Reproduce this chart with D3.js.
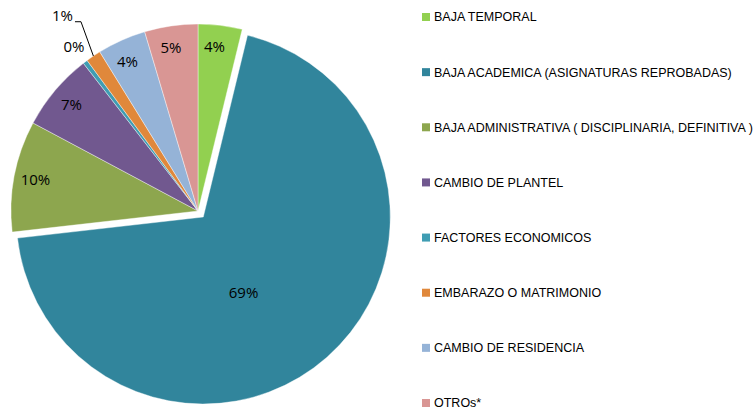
<!DOCTYPE html>
<html>
<head>
<meta charset="utf-8">
<script src="https://cdn.jsdelivr.net/npm/d3@7"></script>
<style>
  body { margin: 0; background: #fff; }
  svg { display: block; }
</style>
</head>
<body>
<div id="chart"></div>
<script>
const categories = [
  "BAJA TEMPORAL",
  "BAJA ACADEMICA (ASIGNATURAS REPROBADAS)",
  "BAJA ADMINISTRATIVA ( DISCIPLINARIA, DEFINITIVA )",
  "CAMBIO DE PLANTEL",
  "FACTORES ECONOMICOS",
  "EMBARAZO O MATRIMONIO",
  "CAMBIO DE RESIDENCIA",
  "OTROs*"
];
const values = [3.8, 69.4, 9.6, 6.7, 0.4, 1.3, 4.2, 4.6];
const colors = ["#92d050", "#31859c", "#8da64e", "#71588f", "#3f9db3", "#e0883b", "#95b3d7", "#d99694"];

const width = 756;
const height = 410;
const cx = 198, cy = 211;
const radius = 187;
const explode = 8;

const svg = d3.select("#chart")
  .append("svg")
  .attr("width", width)
  .attr("height", height);

const pie = d3.pie().sort(null).value((d) => d);
const arcs = pie(values);
const total = d3.sum(values);

const arc = d3.arc().innerRadius(0).outerRadius(radius);
const polar = (a, r) => [Math.sin(a) * r, -Math.cos(a) * r];

const g = svg.append("g").attr("transform", `translate(${cx},${cy})`);

// explode the biggest slice
const maxIdx = values.indexOf(d3.max(values));
const offset = (d, i) => {
  if (i !== maxIdx) return [0, 0];
  return polar((d.startAngle + d.endAngle) / 2, explode);
};

g.selectAll("path")
  .data(arcs)
  .join("path")
  .attr("d", arc)
  .attr("fill", (d, i) => colors[i])
  .attr("stroke", "#fff")
  .attr("stroke-width", 0.4)
  .attr("transform", (d, i) => `translate(${offset(d, i)})`);

// labels
const fmt = (v) => Math.round((v / total) * 100) + "%";
const labelFont = "'Open Sans', 'Noto Sans', sans-serif";

arcs.forEach((d, i) => {
  const mid = (d.startAngle + d.endAngle) / 2;
  const [ox, oy] = offset(d, i);
  let x, y, anchor = "middle";
  const share = d.value / total;
  if (share > 0.5) {
    [x, y] = polar(mid + 0.235, radius * 0.46);
  } else if (share < 0.01) {
    [x, y] = polar(mid, radius * 1.1);
  } else if (share < 0.02) {
    // label with leader line
    const p0 = polar(mid, radius);
    const p1 = polar(mid + 0.04, radius * 1.19);
    const p2 = [p1[0] - 6, p1[1]];
    g.append("polyline")
      .attr("points", [p0, p1, p2].map((p) => p.join(",")).join(" "))
      .attr("fill", "none")
      .attr("stroke", "#000")
      .attr("stroke-width", 1);
    x = p2[0] - 2; y = p2[1] - 6; anchor = "end";
  } else {
    [x, y] = polar(mid - (share < 0.05 ? 0.02 : 0), radius * 0.885);
  }
  g.append("text")
    .attr("x", x + ox)
    .attr("y", y + oy)
    .attr("dy", "0.35em")
    .attr("text-anchor", anchor)
    .attr("font-family", labelFont)
    .attr("font-size", 15)
    .attr("fill", "#000")
    .text(fmt(d.value));
});

// legend
const legendY = d3.scalePoint()
  .domain(categories)
  .range([17, 403]);

const legend = svg.append("g")
  .selectAll("g")
  .data(categories)
  .join("g")
  .attr("transform", (d) => `translate(422,${legendY(d)})`);

legend.append("rect")
  .attr("x", 0)
  .attr("y", -4)
  .attr("width", 8)
  .attr("height", 8)
  .attr("fill", (d, i) => colors[i]);

legend.append("text")
  .attr("x", 12)
  .attr("y", 0)
  .attr("dy", "0.35em")
  .attr("font-family", "'Liberation Sans Narrow', 'Liberation Sans', sans-serif")
  .attr("font-size", 12.5)
  .attr("fill", "#000")
  .text((d) => d);
</script>
</body>
</html>
